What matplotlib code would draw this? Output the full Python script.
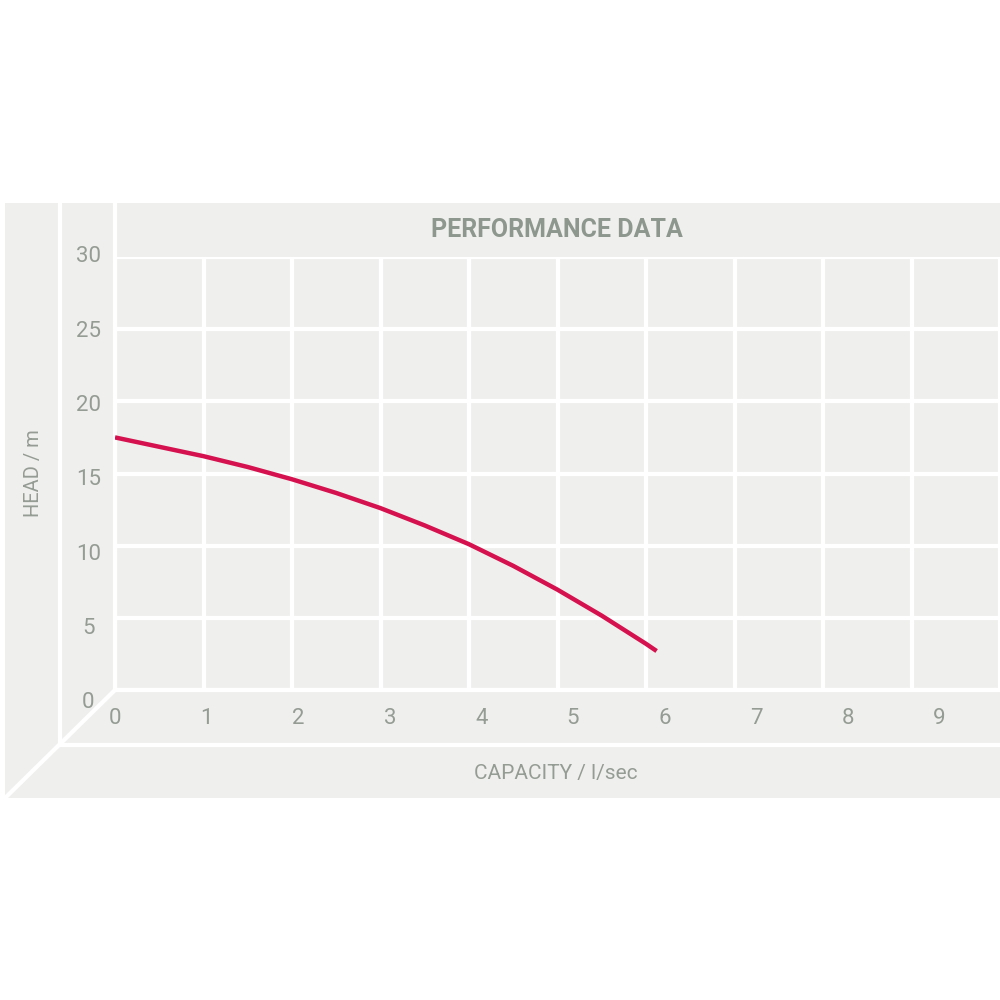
import matplotlib
matplotlib.use('Agg')
import matplotlib.pyplot as plt
from matplotlib import font_manager
from matplotlib.patches import Rectangle

# pump curve
capacity = [0, 0.5, 1, 1.5, 2, 2.5, 3, 3.5, 4, 4.5, 5, 5.5, 6, 6.12]
head = [17.5, 16.85, 16.2, 15.45, 14.6, 13.65, 12.6, 11.4, 10.1, 8.6, 6.95, 5.15, 3.2, 2.7]

x_ticks = [0, 1, 2, 3, 4, 5, 6, 7, 8, 9]
y_ticks = [0, 5, 10, 15, 20, 25, 30]

title = 'PERFORMANCE DATA'
x_label = 'CAPACITY / l/sec'
y_label = 'HEAD / m'

names = {f.name for f in font_manager.fontManager.ttflist}
FONT = 'Liberation Sans Narrow' if 'Liberation Sans Narrow' in names else 'Roboto'
plt.rcParams['font.family'] = [FONT, 'DejaVu Sans']

PANEL = '#eff0ee'
TEXT = '#959c94'
TITLE = '#8e978d'
LINE = '#d5124f'
LW = 3.0

fig = plt.figure(figsize=(10, 10), dpi=100, facecolor='white')

# background frame, in pixel coords
bg = fig.add_axes([0, 0, 1, 1])
bg.set_xlim(0, 1000)
bg.set_ylim(1000, 0)
bg.axis('off')
bg.add_patch(Rectangle((5, 203), 995, 595, facecolor=PANEL, edgecolor='none'))
bg.plot([60, 60], [203, 745], color='white', lw=LW, solid_capstyle='butt')
bg.plot([115, 115], [203, 690], color='white', lw=LW, solid_capstyle='butt')
bg.plot([60, 1000], [745, 745], color='white', lw=LW, solid_capstyle='butt')
bg.plot([115, 1000], [690, 690], color='white', lw=LW, solid_capstyle='butt')
bg.plot([3, 115], [800, 690], color='white', lw=LW, solid_capstyle='butt')

bg.text(557, 230, title, ha='center', va='center', fontsize=18,
        fontweight='bold', color=TITLE)
bg.text(556, 774, x_label, ha='center', va='center', fontsize=15,
        color=TEXT)
bg.text(33, 473, y_label, ha='center', va='center', fontsize=14.5,
        color=TEXT, rotation=90)

# plot area
ax = fig.add_axes([0.115, 0.31, 0.885, 0.433])
ax.set_facecolor('none')
ax.set_xlim(0, 10)
ax.set_ylim(0, 30)
for s in ax.spines.values():
    s.set_visible(False)
ax.set_xticks(range(11))
ax.set_yticks(y_ticks)
ax.tick_params(length=0, labelbottom=False, labelleft=False)
ax.grid(True, color='white', lw=LW)

ax.plot(capacity, head, color=LINE, lw=3.2, solid_capstyle='butt',
        solid_joinstyle='round', zorder=3)

# tick labels sit on a slightly stretched "perspective" scale
for i in x_ticks:
    ax.text(i * 1.035, -2.0, str(i), ha='center', va='center',
            fontsize=16, color=TEXT, clip_on=False)
for v in y_ticks:
    ax.text(-0.3, -0.9 + v * 1.03, str(v), ha='center', va='center',
            fontsize=16, color=TEXT, clip_on=False)

fig.savefig('out.png', dpi=100, facecolor='white')
